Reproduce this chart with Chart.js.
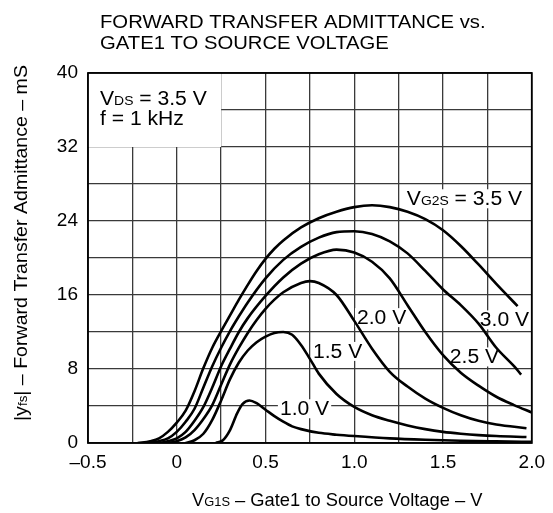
<!DOCTYPE html>
<html>
<head>
<meta charset="utf-8">
<script src="https://cdn.jsdelivr.net/npm/chart.js@4.4.0/dist/chart.umd.min.js"></script>
<style>
  html, body { margin: 0; padding: 0; background: #fff; }
  #wrap { position: relative; width: 553px; height: 513px; }
</style>
</head>
<body>
<div id="wrap"><canvas id="chart"></canvas></div>
<script>
const FONT = '"Liberation Sans", Arial, Helvetica, sans-serif';

const titleLines = ['FORWARD TRANSFER ADMITTANCE vs.', 'GATE1 TO SOURCE VOLTAGE'];
const xTickValues = [-0.5, 0, 0.5, 1.0, 1.5, 2.0];
const xTickLabels = ['\u20130.5', '0', '0.5', '1.0', '1.5', '2.0'];
const yTickValues = [0, 8, 16, 24, 32, 40];
const yTickLabels = ['0', '8', '16', '24', '32', '40'];
const vg2sLevels = ['1.0 V', '1.5 V', '2.0 V', '2.5 V', '3.0 V', '3.5 V'];

// |yfs| (mS) against VG1S (V), one list per VG2S level
const curve10 = [[0.22,0],[0.26,0.3],[0.3,1.4],[0.34,3.2],[0.37,4.2],[0.41,4.6],[0.45,4.3],[0.5,3.6],[0.55,2.9],[0.6,2.3],[0.65,1.8],[0.7,1.5],[0.8,1.1],[0.9,0.9],[1.0,0.75],[1.2,0.5],[1.4,0.35],[1.6,0.25],[1.8,0.18],[2.0,0.12]];
const curve15 = [[0.05,0],[0.1,0.3],[0.15,1.0],[0.2,2.5],[0.25,4.6],[0.3,6.9],[0.35,8.7],[0.4,10.0],[0.45,10.9],[0.5,11.5],[0.55,11.9],[0.6,12.0],[0.65,11.7],[0.7,10.6],[0.75,9.1],[0.8,7.5],[0.9,5.3],[1.0,3.9],[1.1,3.0],[1.2,2.4],[1.3,1.9],[1.4,1.5],[1.5,1.2],[1.6,1.0],[1.7,0.85],[1.8,0.75],[1.97,0.65]];
const curve20 = [[-0.05,0],[0,0.2],[0.05,0.6],[0.1,1.4],[0.15,2.6],[0.2,4.1],[0.25,6.3],[0.3,8.5],[0.35,10.3],[0.4,11.9],[0.45,13.3],[0.5,14.5],[0.55,15.5],[0.6,16.3],[0.7,17.3],[0.75,17.5],[0.8,17.3],[0.9,16.0],[1.0,13.2],[1.1,10.2],[1.2,7.7],[1.3,6.1],[1.4,4.8],[1.5,3.8],[1.6,3.0],[1.7,2.4],[1.8,2.0],[1.97,1.6]];
const curve25 = [[-0.1,0],[-0.05,0.2],[0,0.5],[0.05,1.2],[0.1,2.4],[0.15,3.9],[0.2,6.0],[0.25,8.3],[0.3,10.2],[0.35,12.0],[0.4,13.5],[0.5,15.9],[0.6,17.9],[0.7,19.4],[0.8,20.4],[0.9,20.9],[1.0,20.6],[1.1,19.6],[1.2,17.8],[1.3,14.9],[1.4,12.0],[1.5,9.5],[1.6,7.6],[1.7,6.2],[1.8,5.0],[1.9,4.1],[2.0,3.3]];
const curve30 = [[-0.16,0],[-0.1,0.2],[-0.05,0.5],[0,1.2],[0.05,2.3],[0.1,3.7],[0.15,6.0],[0.2,8.3],[0.25,10.3],[0.3,12.1],[0.35,13.7],[0.4,15.2],[0.5,17.8],[0.6,19.8],[0.7,21.2],[0.8,22.2],[0.9,22.8],[1.0,22.9],[1.1,22.6],[1.2,21.8],[1.3,20.5],[1.4,18.6],[1.5,16.6],[1.6,14.9],[1.7,12.9],[1.8,10.3],[1.9,8.3],[1.94,7.4]];
const curve35 = [[-0.22,0],[-0.15,0.2],[-0.1,0.5],[-0.05,1.2],[0,2.2],[0.05,3.5],[0.1,5.6],[0.15,8.1],[0.2,10.3],[0.25,12.1],[0.3,13.8],[0.35,15.5],[0.4,17.1],[0.45,18.6],[0.5,19.9],[0.55,21.0],[0.6,21.9],[0.7,23.3],[0.8,24.3],[0.9,25.0],[1.0,25.5],[1.1,25.7],[1.2,25.5],[1.3,25.0],[1.4,24.2],[1.5,23.0],[1.6,21.3],[1.7,19.3],[1.8,17.2],[1.92,14.8]];
const curves = [curve10, curve15, curve20, curve25, curve30, curve35];

// curve labels: text parts [string, px size], anchored at data coords (left, baseline)
const curveLabels = [
  { parts: [['V', 20.5], ['G2S', 13.5], [' = 3.5 V', 20.5]], x: 1.296, y: 25.7 },
  { parts: [['2.0 V', 20.5]], x: 1.015, y: 12.85 },
  { parts: [['3.0 V', 20.5]], x: 1.707, y: 12.6 },
  { parts: [['1.5 V', 20.5]], x: 0.767, y: 9.2 },
  { parts: [['2.5 V', 20.5]], x: 1.538, y: 8.6 },
  { parts: [['1.0 V', 20.5]], x: 0.581, y: 3.0 }
];

function setFont(ctx, size) {
  ctx.font = size + 'px ' + FONT;
}

function richWidth(ctx, parts) {
  let w = 0;
  parts.forEach(p => { setFont(ctx, p[1]); w += ctx.measureText(p[0]).width; });
  return w;
}

// draws mixed-size text on one baseline; hs stretches it horizontally
function richText(ctx, parts, x, y, align, hs) {
  hs = hs || 1;
  const w = richWidth(ctx, parts) * hs;
  ctx.save();
  ctx.translate(align === 'center' ? x - w / 2 : x, y);
  ctx.scale(hs, 1);
  ctx.textAlign = 'left';
  ctx.textBaseline = 'alphabetic';
  let cx = 0;
  parts.forEach(p => {
    setFont(ctx, p[1]);
    ctx.fillText(p[0], cx, 0);
    cx += ctx.measureText(p[0]).width;
  });
  ctx.restore();
  return w;
}

const annotations = {
  id: 'annotations',
  beforeDatasetsDraw(chart) {
    const { ctx, scales: { x, y } } = chart;
    ctx.save();
    // conditions box in the top left corner
    ctx.fillStyle = '#fff';
    const bx = x.getPixelForValue(-0.5), by = y.getPixelForValue(40);
    ctx.fillRect(bx, by, x.getPixelForValue(0.25) - bx, y.getPixelForValue(32) - by);
    ctx.fillStyle = '#000';
    richText(ctx, [['V', 20.5], ['DS', 13.5], [' = 3.5 V', 20.5]], 100, 105, 'left', 1.03);
    richText(ctx, [['f = 1 kHz', 20.5]], 100, 125, 'left', 1.03);

    curveLabels.forEach(l => {
      const px = x.getPixelForValue(l.x), py = y.getPixelForValue(l.y);
      const w = richWidth(ctx, l.parts) * 1.03;
      ctx.fillStyle = '#fff';
      ctx.fillRect(px - 2, py - 16, w + 4, 19);
      ctx.fillStyle = '#000';
      richText(ctx, l.parts, px, py, 'left', 1.03);
    });
    ctx.restore();
  },
  afterDraw(chart) {
    const { ctx, chartArea: a } = chart;
    ctx.save();
    ctx.strokeStyle = '#000';
    ctx.lineWidth = 1.8;
    ctx.strokeRect(a.left, a.top, a.right - a.left, a.bottom - a.top);

    ctx.fillStyle = '#000';
    richText(ctx, [[titleLines[0], 19]], 100, 28, 'left', 1.066);
    richText(ctx, [[titleLines[1], 19]], 100, 49, 'left', 1.066);

    richText(ctx, [['V', 18.5], ['G1S', 13], [' \u2013 Gate1 to Source Voltage \u2013 V', 18.5]], 192, 506, 'left', 0.99);

    ctx.translate(27, 243);
    ctx.rotate(-Math.PI / 2);
    richText(ctx, [['|y', 19], ['fs', 13], ['| \u2013 Forward Transfer Admittance \u2013 mS', 19]], 0, 0, 'center', 1.03);
    ctx.restore();
  }
};

new Chart(document.getElementById('chart'), {
  type: 'scatter',
  data: {
    datasets: curves.map((c, i) => ({
      label: 'VG2S = ' + vg2sLevels[i],
      data: c.map(p => ({ x: p[0], y: p[1] })),
      showLine: true,
      borderColor: '#000',
      borderWidth: 2.6,
      pointRadius: 0,
      fill: false,
      cubicInterpolationMode: 'monotone'
    }))
  },
  options: {
    responsive: true,
    maintainAspectRatio: false,
    animation: false,
    layout: { padding: { top: 73, right: 21, left: 0, bottom: 0 } },
    plugins: {
      legend: { display: false },
      title: { display: false },
      tooltip: { enabled: false }
    },
    scales: {
      x: {
        type: 'linear',
        min: -0.5,
        max: 2.0,
        afterFit: s => { s.height = 70; },
        border: { display: false },
        grid: { color: '#3a3a3a', lineWidth: 1.3, drawTicks: false },
        ticks: {
          stepSize: 0.25,
          autoSkip: false,
          maxRotation: 0,
          padding: 8,
          color: '#000',
          font: { family: FONT, size: 19 },
          callback: v => {
            const i = xTickValues.findIndex(t => Math.abs(t - v) < 1e-6);
            return i >= 0 ? xTickLabels[i] : '';
          }
        }
      },
      y: {
        type: 'linear',
        min: 0,
        max: 40,
        afterFit: s => { s.width = 88; },
        border: { display: false },
        grid: { color: '#3a3a3a', lineWidth: 1.3, drawTicks: false },
        ticks: {
          stepSize: 4,
          autoSkip: false,
          padding: 10,
          color: '#000',
          font: { family: FONT, size: 19 },
          callback: v => {
            const i = yTickValues.indexOf(v);
            return i >= 0 ? yTickLabels[i] : '';
          }
        }
      }
    }
  },
  plugins: [annotations]
});
</script>
</body>
</html>
